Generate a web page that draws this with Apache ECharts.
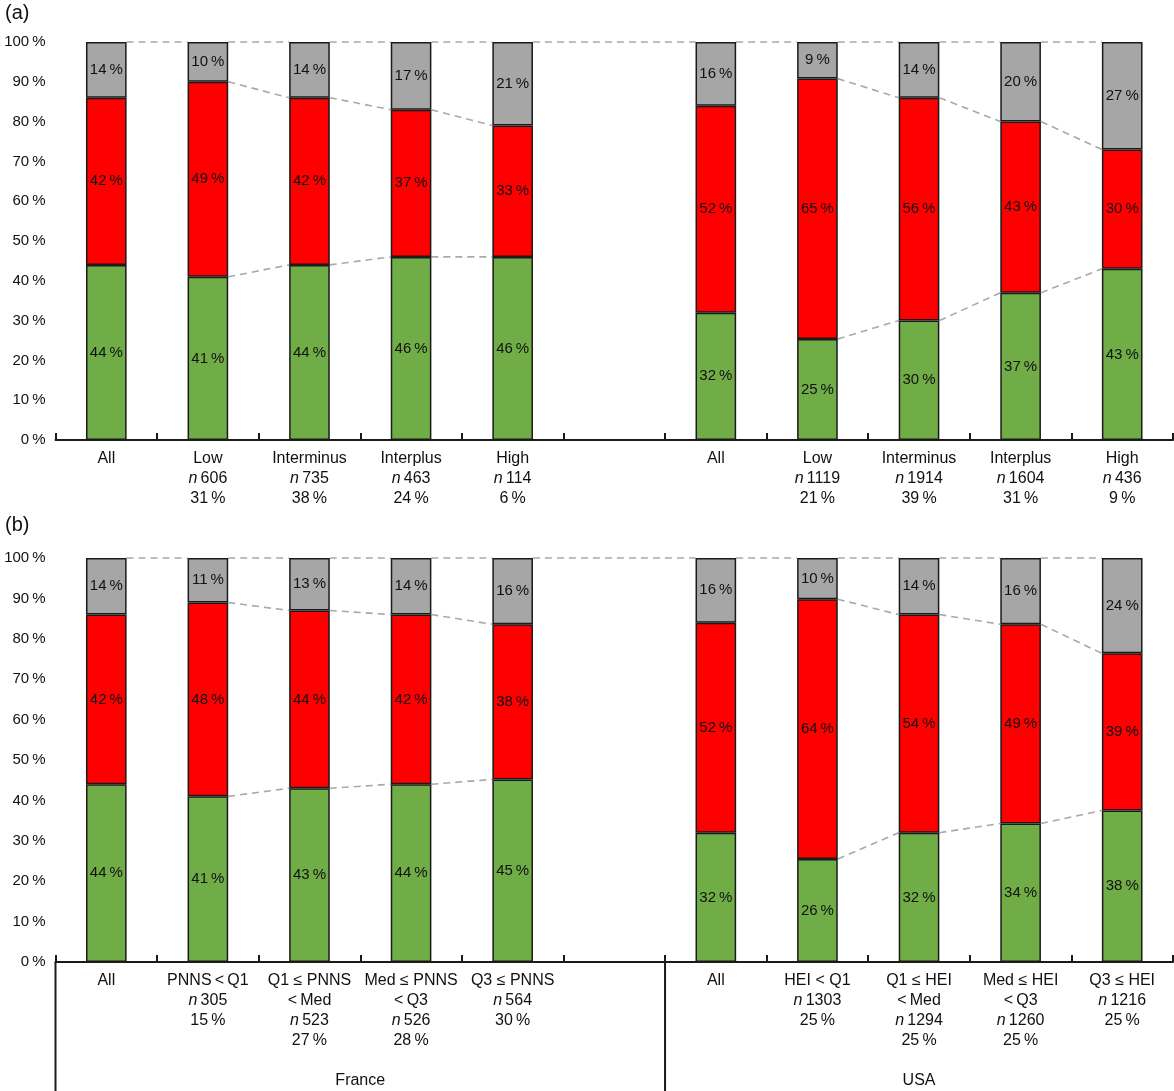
<!DOCTYPE html>
<html><head><meta charset="utf-8">
<script src="https://cdn.jsdelivr.net/npm/echarts@6/dist/echarts.min.js"></script>
<style>html,body{margin:0;padding:0;background:#fff}#c{width:1174px;height:1091px}</style>
</head><body><div id="c"></div>
<script>
// ---- data ----
const yTickValues = [0,10,20,30,40,50,60,70,80,90,100];
const catsA = ['All','Low','Interminus','Interplus','High','','All','Low','Interminus','Interplus','High'];
const nA    = [null,606,735,463,114,null,null,1119,1914,1604,436];
const pctA  = [null,31,38,24,6,null,null,21,39,31,9];
const catsB = ['All','PNNS\u2009<\u2009Q1','Q1 \u2264 PNNS\n<\u2009Med','Med \u2264 PNNS\n<\u2009Q3','Q3 \u2264 PNNS','',
               'All','HEI < Q1','Q1 \u2264 HEI\n<\u2009Med','Med \u2264 HEI\n<\u2009Q3','Q3 \u2264 HEI'];
const nB    = [null,305,523,526,564,null,null,1303,1294,1260,1216];
const pctB  = [null,15,27,28,30,null,null,25,25,25,25];

const greenA_France = [44,41,44,46,46];
const redA_France   = [42,49,42,37,33];
const grayA_France  = [14,10,14,17,21];
const greenA_USA    = [32,25.4,30,37,43];
const redA_USA      = [52,65.4,56,43,30];
const grayA_USA     = [16,9.2,14,20,27];

const greenB_France = [44,41,43,44,45.2];
const redB_France   = [42,48,44,42,38.4];
const grayB_France  = [14,11,13,14,16.4];
const greenB_USA    = [32,25.5,32,34.3,37.5];
const redB_USA      = [52,64.3,54,49.3,38.9];
const grayB_USA     = [16,10.2,14,16.4,23.6];

const groupNames = ['France','USA'];
const groupRanges = [[0,5],[6,10]];
const subgroupRuns = [[1,2,3,4],[7,8,9,10]];
const barIdx = [0,1,2,3,4,6,7,8,9,10];

// ---- build ----
const FONT = "'Liberation Sans', Arial, Helvetica, sans-serif";
const join = (f,u) => [...f, null, ...u];
const panels = [
  {cats:catsA, n:nA, pct:pctA, green:join(greenA_France,greenA_USA), red:join(redA_France,redA_USA), gray:join(grayA_France,grayA_USA)},
  {cats:catsB, n:nB, pct:pctB, green:join(greenB_France,greenB_USA), red:join(redB_France,redB_USA), gray:join(grayB_France,grayB_USA)}
];

function segRender(params, api){
  const a = api.coord([api.value(0), api.value(1)]);
  const b = api.coord([api.value(2), api.value(3)]);
  const half = api.size([1,0])[0]*0.2;
  return {type:'line', shape:{x1:a[0]+half, y1:a[1], x2:b[0]-half, y2:b[1]},
    style:{stroke:'#a9a9a9', lineWidth:1.6, lineDash:[7,5], fill:null}};
}

const grids = [
  {left:55.5, right:1, top:42, height:398},
  {left:55.5, right:1, top:558, height:404}
];
const xAxes = [], yAxes = [], series = [];
panels.forEach((p, g) => {
  xAxes.push({
    type:'category', gridIndex:g, data:p.cats, boundaryGap:true,
    axisLine:{show:true, lineStyle:{color:'#1a1a1a', width:2}},
    axisTick:{show:true, inside:true, length:7, lineStyle:{color:'#1a1a1a', width:2}},
    axisLabel:{interval:0, margin:9, color:'#111', fontSize:16, fontFamily:FONT, lineHeight:20,
      formatter:(v, i) => {
        let s = v;
        if (p.n[i] != null) s += '\n{i|n}\u2009' + p.n[i] + '\n' + p.pct[i] + '\u2009%';
        return s;
      },
      rich:{i:{fontStyle:'italic', fontSize:16, fontFamily:FONT, color:'#111', lineHeight:20}}
    },
    splitLine:{show:false}
  });
  yAxes.push({
    type:'value', gridIndex:g, min:0, max:100, interval:10,
    axisLine:{show:false}, axisTick:{show:false}, splitLine:{show:false},
    axisLabel:{margin:10, color:'#111', fontSize:15, fontFamily:FONT, formatter:v => v + '\u2009%'}
  });
  const mk = (name, data, color) => ({
    type:'bar', name, xAxisIndex:g, yAxisIndex:g, stack:'s'+g, data, barWidth:'40%', z:3,
    itemStyle:{color, borderColor:'#1a1a1a', borderWidth:1.5},
    label:{show:true, position:'inside', color:'#111', fontSize:15, fontFamily:FONT,
      formatter:q => Math.round(q.value) + '\u2009%'}
  });
  series.push(mk('green', p.green, '#70ad47'));
  series.push(mk('red', p.red, '#ff0000'));
  series.push(mk('gray', p.gray, '#a6a6a6'));
  // connecting dashed segments
  const segs = [];
  for (let k = 0; k < barIdx.length-1; k++) {
    const i = barIdx[k], j = barIdx[k+1];
    segs.push([i, p.green[i]+p.red[i]+p.gray[i], j, p.green[j]+p.red[j]+p.gray[j]]);
  }
  subgroupRuns.forEach(run => {
    for (let k = 0; k < run.length-1; k++) {
      const i = run[k], j = run[k+1];
      segs.push([i, p.green[i], j, p.green[j]]);
      segs.push([i, p.green[i]+p.red[i], j, p.green[j]+p.red[j]]);
    }
  });
  series.push({type:'custom', xAxisIndex:g, yAxisIndex:g, data:segs, z:2, silent:true,
    encode:{x:[0,2], y:[1,3]}, renderItem:segRender});
});

// group dividers for panel b
series.push({type:'custom', xAxisIndex:1, yAxisIndex:1, data:groupRanges, clip:false, silent:true, z:4,
  encode:{x:[0,1]},
  renderItem:(params, api) => {
    const i0 = api.value(0), i1 = api.value(1);
    const band = api.size([1,0])[0];
    const p0 = api.coord([i0, 0]), p1 = api.coord([i1, 0]);
    const xl = p0[0]-band/2, xr = p1[0]+band/2;
    return {type:'group', children:[
      {type:'line', shape:{x1:xl, y1:p0[1], x2:xl, y2:p0[1]+130}, style:{stroke:'#1a1a1a', lineWidth:2}},
      {type:'text', style:{text:groupNames[params.dataIndex], x:(xl+xr)/2, y:p0[1]+119,
        align:'center', verticalAlign:'middle', fontSize:16, fontFamily:FONT, fill:'#111'}}
    ]};
  }
});

const chart = echarts.init(document.getElementById('c'), null, {renderer:'canvas'});
chart.setOption({
  animation:false,
  backgroundColor:'#fff',
  title:[
    {text:'(a)', left:0, top:-2, textStyle:{fontSize:20, fontWeight:'normal', color:'#111', fontFamily:FONT}},
    {text:'(b)', left:0, top:510, textStyle:{fontSize:20, fontWeight:'normal', color:'#111', fontFamily:FONT}}
  ],
  grid:grids, xAxis:xAxes, yAxis:yAxes, series
});
</script></body></html>
